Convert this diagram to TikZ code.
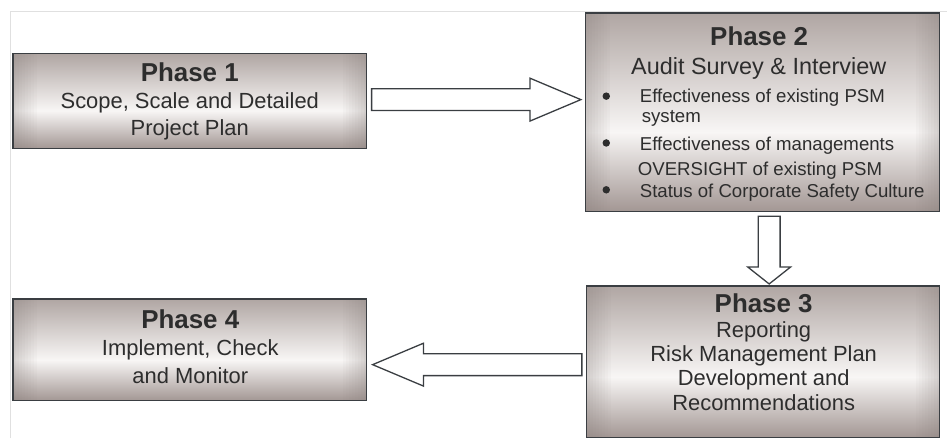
\documentclass[tikz,border=0pt]{standalone}
\usepackage{fontspec}
\setmainfont{Liberation Sans}
\usetikzlibrary{calc}
\definecolor{bdark}{RGB}{163,151,148}
\definecolor{btop}{RGB}{176,166,163}
\definecolor{bmid}{RGB}{248,246,245}
\definecolor{edgec}{RGB}{58,62,66}
\definecolor{txt}{RGB}{45,45,45}
\definecolor{framec}{RGB}{224,224,224}
\pgfdeclareverticalshading{boxshade}{100bp}{color(0bp)=(bdark); color(25bp)=(bdark); color(45bp)=(bmid); color(75bp)=(btop); color(100bp)=(btop)}
\begin{document}
\begin{tikzpicture}[x=1pt,y=-1pt,
  phase/.style={draw=edgec, line width=1.3pt, outer sep=0pt, inner sep=0pt, anchor=north west,
    shade, shading=boxshade,
    path picture={
      \foreach \i [evaluate=\i as \op using {0.3*(1-\i/8)}] in {0,...,7}{
        \fill[bdark!80!black, fill opacity=\op] ([xshift=\i*3pt]path picture bounding box.south west) rectangle ([xshift=\i*3pt+3pt]path picture bounding box.north west);
        \fill[bdark!80!black, fill opacity=\op] ([xshift=-\i*3pt]path picture bounding box.south east) rectangle ([xshift=-\i*3pt-3pt]path picture bounding box.north east);
      }
    }},
  ttl/.style={font=\fontsize{26}{30}\selectfont\bfseries, text=txt, anchor=base, inner sep=0pt},
  body/.style={font=\fontsize{22}{26}\selectfont, text=txt, anchor=base, inner sep=0pt},
  bul/.style={font=\fontsize{18.7}{22}\selectfont, text=txt, anchor=base west, inner sep=0pt},
  dot/.style={circle, fill=txt, minimum size=7.5pt, inner sep=0pt},
  blockarrow/.style={draw=edgec, line width=1.3pt, fill=white, line join=miter}]

\fill[white] (0,0) rectangle (947,434);
\draw[framec, line width=1pt] (11,440) -- (11,12) -- (950,12);
\useasboundingbox (0,0) rectangle (947,434);

% boxes
\node[phase, minimum width=355pt, minimum height=95pt]  (p1) at (13,54) {};
\node[phase, minimum width=355pt, minimum height=199pt] (p2) at (588,13) {};
\node[phase, minimum width=354pt, minimum height=152pt] (p3) at (589,287) {};
\node[phase, minimum width=355pt, minimum height=102pt] (p4) at (13,300) {};

% Phase 1 text
\node[ttl]  (t1a) at (190.5,82) {Phase 1};
\node[body] (t1b) at (190.5,108.5) {Scope, Scale and Detailed};
\node[body] (t1c) at (190.5,136) {Project Plan};

% Phase 2 text
\node[ttl] (t2a) at (762,46) {Phase 2};
\node[body, font=\fontsize{23.5}{28}\selectfont] (t2b) at (761.5,75) {Audit Survey \& Interview};
\node[dot] (d1) at (608.5,96.5) {};
\node[dot] (d2) at (608.5,143.5) {};
\node[dot] (d3) at (608.5,190.5) {};
\node[bul] (t2c) at (642,102.7) {Effectiveness of existing PSM};
\node[bul] (t2d) at (644,123) {system};
\node[bul] (t2e) at (642,150.7) {Effectiveness of managements};
\node[bul] (t2f) at (640,176) {OVERSIGHT of existing PSM};
\node[bul] (t2g) at (642,198) {Status of Corporate Safety Culture};

% Phase 3 text
\node[ttl]  (t3a) at (766.5,313.3) {Phase 3};
\node[body] (t3b) at (766.5,339) {Reporting};
\node[body] (t3c) at (766.5,362.7) {Risk Management Plan};
\node[body] (t3d) at (766.5,386.7) {Development and};
\node[body] (t3e) at (766.5,411.7) {Recommendations};

% Phase 4 text
\node[ttl]  (t4a) at (191,330) {Phase 4};
\node[body] (t4b) at (191,357.3) {Implement, Check};
\node[body] (t4c) at (191,385) {and Monitor};

% block arrows
\draw[blockarrow] let \p1=($(p1.east)+(5,-1.5)$), \p2=($(p2.west)+(-5,0)$) in
  (\x1,\y1+11pt) -- (\x2-51pt,\y1+11pt) -- (\x2-51pt,\y1+21.5pt) -- (\x2,\y1)
  -- (\x2-51pt,\y1-21.5pt) -- (\x2-51pt,\y1-11pt) -- (\x1,\y1-11pt) -- cycle;

\draw[blockarrow] let \p1=($(p2.south)+(6.5,5)$), \p2=($(p3.north)+(6.5,-2)$) in
  (\x1-11pt,\y1) -- (\x1-11pt,\y2+17pt) -- (\x1-21.5pt,\y2+17pt) -- (\x1,\y2)
  -- (\x1+21.5pt,\y2+17pt) -- (\x1+11pt,\y2+17pt) -- (\x1+11pt,\y1) -- cycle;

\draw[blockarrow] let \p1=($(p3.west)+(-5,3)$), \p2=($(p4.east)+(6,0)$) in
  (\x1,\y1+11pt) -- (\x2+51pt,\y1+11pt) -- (\x2+51pt,\y1+21.5pt) -- (\x2,\y1)
  -- (\x2+51pt,\y1-21.5pt) -- (\x2+51pt,\y1-11pt) -- (\x1,\y1-11pt) -- cycle;
\end{tikzpicture}
\end{document}
